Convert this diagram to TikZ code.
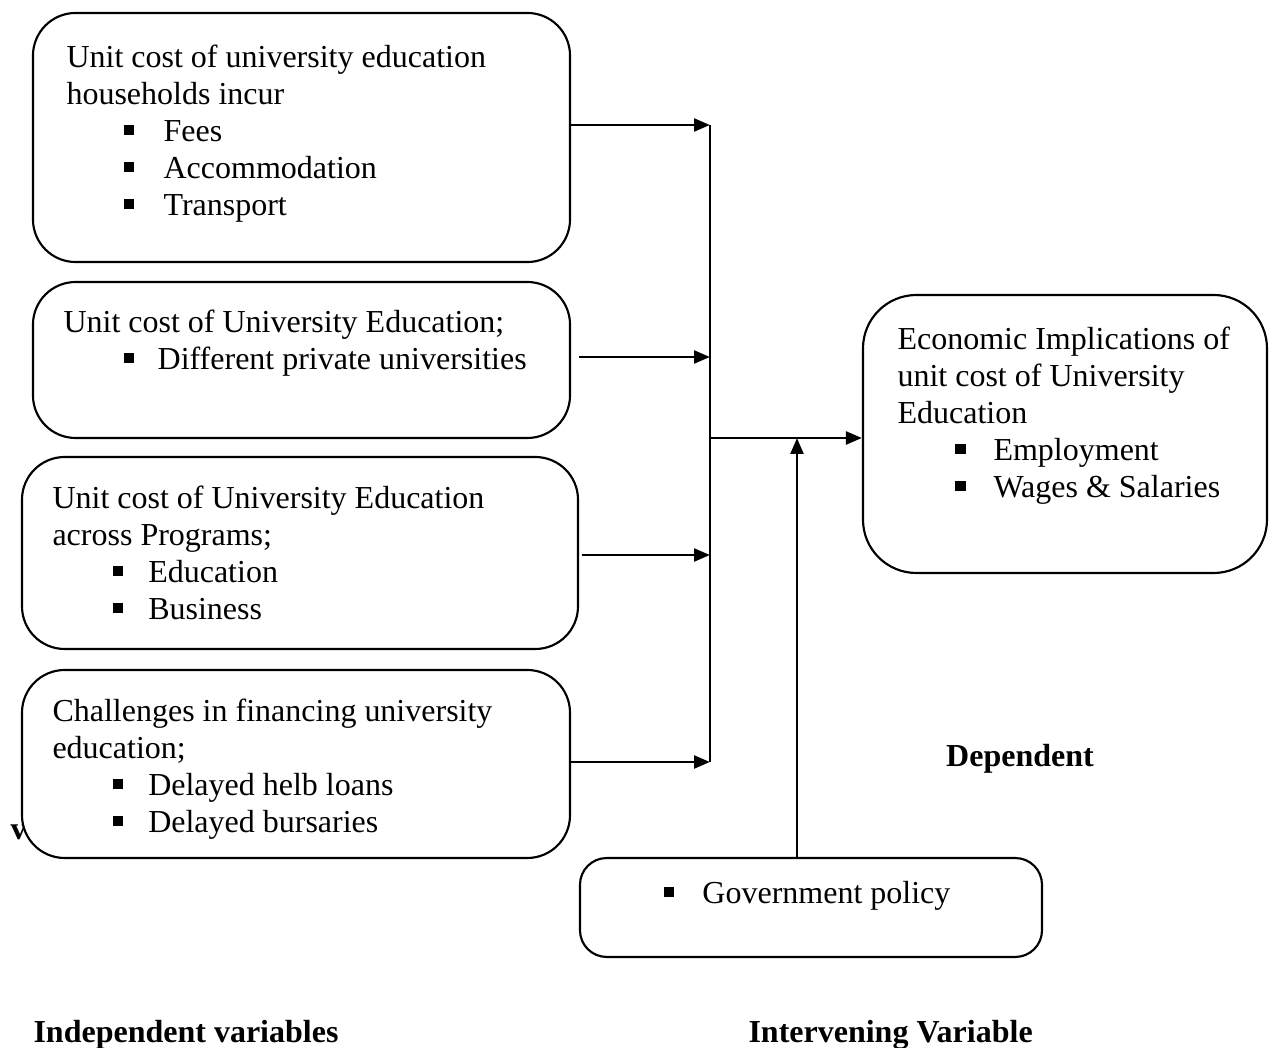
\documentclass[tikz,border=0pt]{standalone}
\usepackage{fontspec}
\setmainfont{Liberation Serif}
\usepackage{tikz}
\usetikzlibrary{positioning,arrows.meta}

\newcommand{\bitem}[3]{\hspace*{#1}\makebox[#2][l]{\rule[2.4pt]{3.8pt}{3.8pt}}#3}

\begin{document}
\begin{tikzpicture}[x=0.375pt,y=-0.375pt,>={Triangle[length=6pt,width=4.8pt]},
  varbox/.style={draw,line width=0.8pt,rounded corners=16pt,fill=white,inner sep=0pt},
  boxtext/.style={anchor=north west,inner sep=0pt,align=left,font=\fontsize{12}{13.9}\selectfont},
  caption/.style={inner sep=0pt,font=\fontsize{12}{13.9}\selectfont\bfseries},
  link/.style={line width=1.1pt}]

\useasboundingbox (0,0) rectangle (1274,1048);

\node[caption, anchor=base west] (vhid) at (10,840) {v};

% independent variables
\node[varbox, minimum width=201.4pt, minimum height=93.4pt] (costhh) at (301.5,137.5) {};
\node[varbox, minimum width=201.4pt, minimum height=58.5pt] (costpriv) at (301.5,360) {};
\node[varbox, minimum width=208.5pt, minimum height=72pt] (costprog) at (300,553) {};
\node[varbox, minimum width=205.5pt, minimum height=70.5pt] (finance) at (296,764) {};

% dependent and intervening
\node[varbox, rounded corners=20pt, minimum width=151.5pt, minimum height=104.25pt] (econ) at (1065,434) {};
\node[varbox, rounded corners=10pt, minimum width=173.25pt, minimum height=37.1pt] (gov) at (811,907.5) {};

\node[boxtext] (costhhtxt) at (66,44) {Unit cost of university education\\
  households incur\\
  \bitem{21.4pt}{15pt}{Fees}\\
  \bitem{21.4pt}{15pt}{Accommodation}\\
  \bitem{21.4pt}{15pt}{Transport}};
\node[boxtext] (costprivtxt) at (63,309) {Unit cost of University Education;\\
  \bitem{22.5pt}{12.8pt}{Different private universities}};
\node[boxtext] (costprogtxt) at (52,485) {Unit cost of University Education\\
  across Programs;\\
  \bitem{22.8pt}{13.1pt}{Education}\\
  \bitem{22.8pt}{13.1pt}{Business}};
\node[boxtext] (financetxt) at (52,698) {Challenges in financing university\\
  education;\\
  \bitem{22.8pt}{13.1pt}{Delayed helb loans}\\
  \bitem{22.8pt}{13.1pt}{Delayed bursaries}};
\node[boxtext] (econtxt) at (897,326) {Economic Implications of\\
  unit cost of University\\
  Education\\
  \bitem{21.7pt}{14.3pt}{Employment}\\
  \bitem{21.7pt}{14.3pt}{Wages \& Salaries}};
\node[boxtext] (govtxt) at (663,881) {\bitem{0pt}{14.6pt}{Government policy}};

% bus
\coordinate (j1) at (710,125);
\coordinate (j2) at (710,357);
\coordinate (j3) at (710,555);
\coordinate (j4) at (710,762);
\coordinate (jm) at (710,438);
\coordinate (jg) at (797,438);

\draw[line width=0.8pt] (j1) -- (j4);
\draw[link,->] (j1 -| costhh.east) -- (j1);
\draw[link,->] ([xshift=3pt]j2 -| costpriv.east) -- (j2);
\draw[link,->] ([xshift=1pt]j3 -| costprog.east) -- (j3);
\draw[link,->] (j4 -| finance.east) -- (j4);
\draw[link,->] (jm) -- (jm -| econ.west);
\draw[link,->] (jg |- gov.north) -- (jg);

% labels
\node[caption, anchor=base] (deplbl) at (1020,767) {Dependent};
\node[caption, anchor=base west] (indlbl) at (33,1043) {Independent variables};
\node[caption, anchor=base west] (intlbl) at (748,1043) {Intervening Variable};

\end{tikzpicture}
\end{document}
